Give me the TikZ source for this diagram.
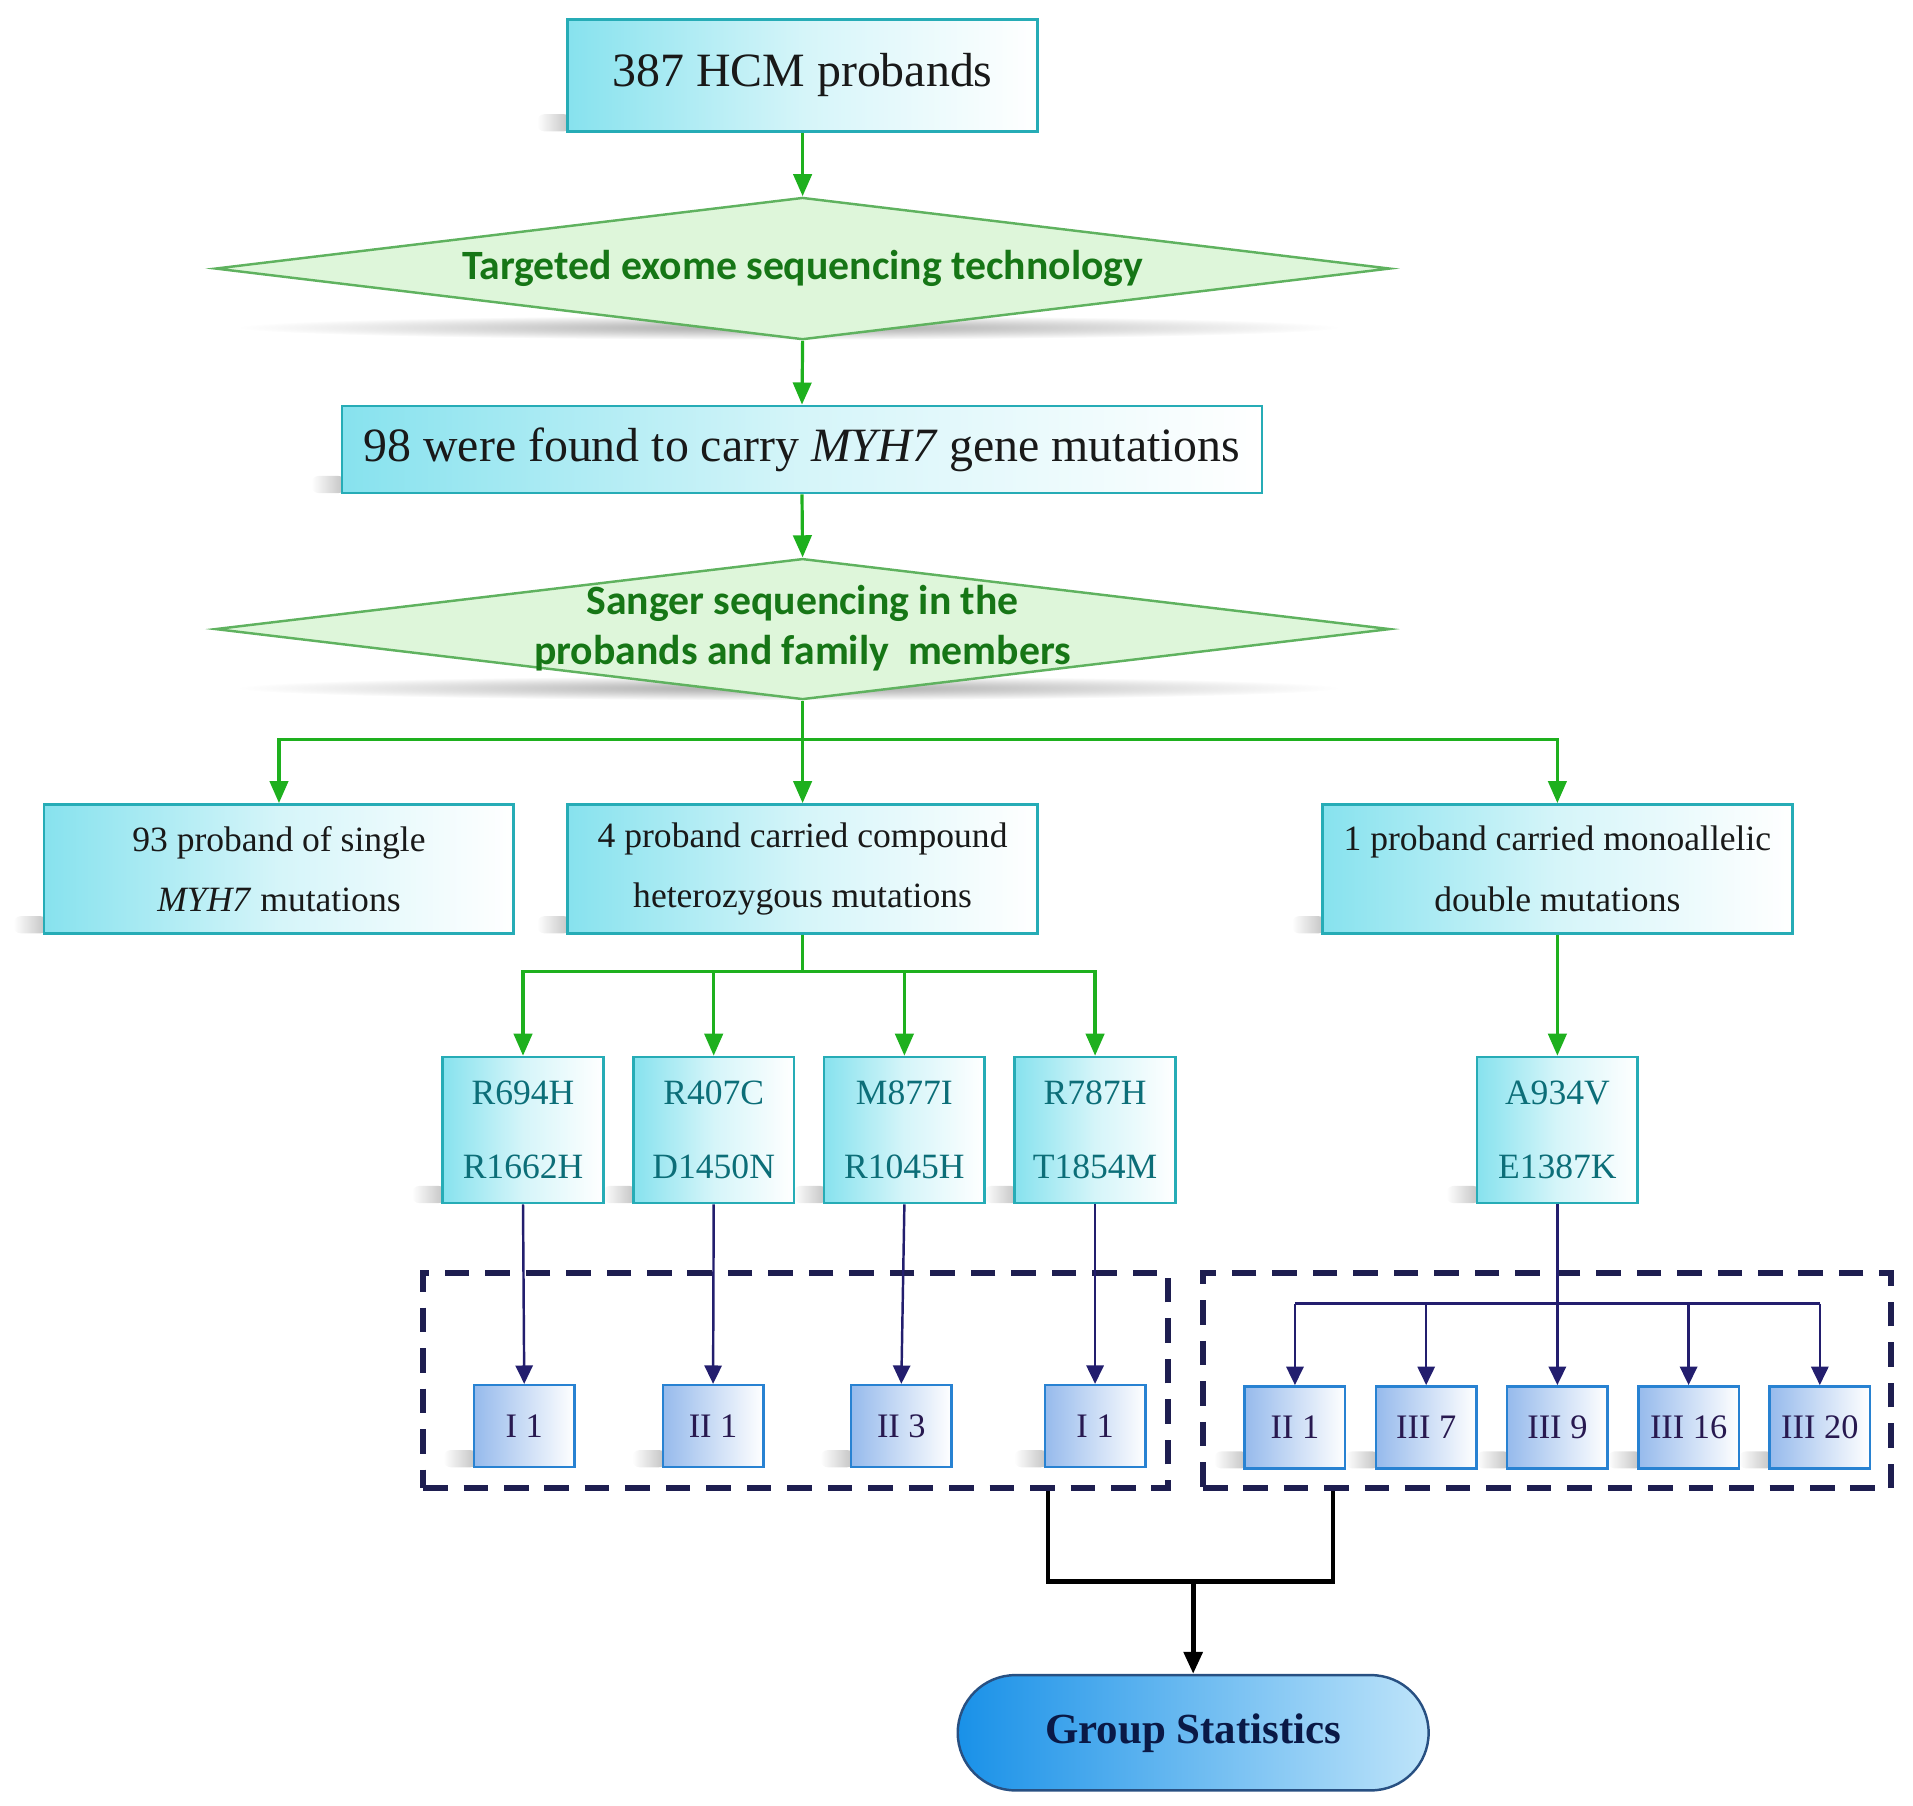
\documentclass[tikz,border=0pt]{standalone}
\usepackage{fontspec}
\setmainfont{Liberation Serif}
\newfontfamily\calibrifont{Carlito}
\usetikzlibrary{arrows.meta,shapes.geometric,shapes.misc,calc}
\pgfdeclarelayer{bg}
\pgfsetlayers{bg,main}
\definecolor{boxborder}{RGB}{38,172,182}
\definecolor{boxcyan}{RGB}{135,226,238}
\definecolor{muttext}{RGB}{12,110,120}
\definecolor{diafill}{RGB}{222,246,218}
\definecolor{diaborder}{RGB}{95,178,95}
\definecolor{diatext}{RGB}{22,118,22}
\definecolor{garrowc}{RGB}{30,176,30}
\definecolor{navyc}{RGB}{35,30,110}
\definecolor{dashc}{RGB}{30,30,80}
\definecolor{sborder}{RGB}{40,130,210}
\definecolor{sfill}{RGB}{150,186,236}
\definecolor{stext}{RGB}{40,25,80}
\definecolor{gsleft}{RGB}{25,145,232}
\definecolor{gsright}{RGB}{190,228,250}
\definecolor{gsborder}{RGB}{40,80,130}
\definecolor{gstext}{RGB}{10,25,70}
\definecolor{maintext}{RGB}{25,25,25}
\begin{document}
\begin{tikzpicture}[x=1pt,y=-1pt,
  tbox/.style={draw=boxborder, line width=2.2pt, left color=boxcyan, right color=white,
    middle color=boxcyan!35!white, inner sep=0pt, align=center, text=maintext},
  bigbox/.style={tbox, font=\fontsize{39}{47}\selectfont},
  rowbox/.style={tbox, minimum width=383pt, minimum height=105pt, font=\fontsize{29}{49}\selectfont},
  mutbox/.style={tbox, minimum width=131pt, minimum height=119pt, text=muttext, font=\fontsize{29}{60}\selectfont},
  diabox/.style={shape=diamond, draw=diaborder, fill=diafill, line width=2pt, inner sep=0pt,
    minimum width=958pt, minimum height=116pt, text=diatext,
    font=\calibrifont\bfseries\fontsize{34}{41}\selectfont},
  sbox/.style={draw=sborder, line width=2pt, left color=sfill, right color=white,
    minimum width=82pt, minimum height=67pt, inner sep=0pt, text=stext, font=\fontsize{28}{34}\selectfont},
  dashbox/.style={draw=dashc, line width=4.5pt, dash pattern=on 20pt off 13pt, minimum height=175.6pt, inner sep=0pt},
  gsnode/.style={rounded rectangle, draw=gsborder, line width=2pt, left color=gsleft, right color=gsright,
    minimum width=384pt, minimum height=94pt, inner sep=0pt, text=gstext, font=\bfseries\fontsize{35}{42}\selectfont},
  gline/.style={draw=garrowc, line width=2.6pt},
  garrow/.style={gline, -{Triangle[length=18pt,width=15pt]}},
  nline/.style={draw=navyc, line width=2pt},
  narrow/.style={nline, -{Triangle[length=15pt,width=14pt]}},
  bline/.style={draw=black, line width=4pt},
  barrow/.style={bline, -{Triangle[length=18pt,width=15pt]}}
]
\useasboundingbox (0,0) rectangle (1560,1472);

% main column
\node[bigbox, minimum width=383pt, minimum height=91pt] (top) at (654.5,61.5) {387 HCM probands};
\node[diabox] (d1) at (654.5,219) {\makebox[0pt]{Targeted exome sequencing technology}};
\node[bigbox, minimum width=750pt, minimum height=71pt] (b2) at (654,366.5) {98 were found to carry \textit{MYH7} gene mutations};
\node[diabox, minimum height=115pt] (d2) at (654.5,513) {\makebox[0pt]{\begin{tabular}{@{}c@{}}Sanger sequencing in the\\probands and family\ \ members\end{tabular}}};

% second row
\node[rowbox] (bA) at (227.5,708.5) {93 proband of single\\\textit{MYH7} mutations};
\node[rowbox] (bB) at (654.5,708.5) {4 proband carried compound\\heterozygous mutations};
\node[rowbox] (bC) at (1270,708.5) {1 proband carried monoallelic\\double mutations};

% mutation boxes
\node[mutbox] (m1) at (426.5,921.5) {R694H\\R1662H};
\node[mutbox] (m2) at (582,921.5) {R407C\\D1450N};
\node[mutbox] (m3) at (737.5,921.5) {M877I\\R1045H};
\node[mutbox] (m4) at (893,921.5) {R787H\\T1854M};
\node[mutbox] (mD) at (1270,921.5) {A934V\\E1387K};

% dashed groups
\node[dashbox, minimum width=607.5pt] (dl) at (648.75,1125.8) {};
\node[dashbox, minimum width=561pt] (dr) at (1261.5,1125.8) {};

% family members
\node[sbox] (s1) at (427.5,1163) {I 1};
\node[sbox] (s2) at (581.5,1163) {II 1};
\node[sbox] (s3) at (735,1163) {II 3};
\node[sbox] (s4) at (893,1163) {I 1};
\node[sbox] (r1) at (1056,1164) {II 1};
\node[sbox] (r2) at (1163,1164) {III 7};
\node[sbox] (r3) at (1270,1164) {III 9};
\node[sbox] (r4) at (1377,1164) {III 16};
\node[sbox] (r5) at (1484,1164) {III 20};

% final
\node[gsnode] (gs) at (973,1413) {Group Statistics};

% shadows
\begin{pgfonlayer}{bg}
  \shade[inner color=gray!70, outer color=white] (643,267) ellipse [x radius=450, y radius=10];
  \shade[inner color=gray!70, outer color=white] (643,561) ellipse [x radius=450, y radius=10];
  \foreach \n in {top,b2,bA,bB,bC,m1,m2,m3,m4,mD,s1,s2,s3,s4,r1,r2,r3,r4,r5}{
    \shade[left color=white, right color=gray!50, rounded corners=6pt]
      ([xshift=-24pt,yshift=1pt]\n.south west) rectangle ([xshift=4pt,yshift=15pt]\n.south west);
  }
\end{pgfonlayer}

% green connectors
\draw[garrow] (top.south) -- (d1.north);
\draw[garrow] (d1.south) -- (b2.north);
\draw[garrow] (b2.south) -- (d2.north);
\coordinate (j1) at (654.5,603);
\draw[gline] (d2.south) -- (j1);
\draw[garrow] (j1) -| (bA.north);
\draw[garrow] (j1) -- (bB.north);
\draw[garrow] (j1) -| (bC.north);
\coordinate (j2) at (654.5,792);
\draw[gline] (bB.south) -- (j2);
\draw[garrow] (j2) -| (m1.north);
\draw[garrow] (j2) -| (m2.north);
\draw[garrow] (j2) -| (m3.north);
\draw[garrow] (j2) -| (m4.north);
\draw[garrow] (bC.south) -- (mD.north);

% navy connectors
\draw[narrow] (m1.south) -- (s1.north);
\draw[narrow] (m2.south) -- (s2.north);
\draw[narrow] (m3.south) -- (s3.north);
\draw[narrow] (m4.south) -- (s4.north);
\draw[narrow] (mD.south) -- (r3.north);
\coordinate (hb) at (1270,1063);
\draw[nline] (r1.north |- hb) -- (r5.north |- hb);
\draw[narrow] (r1.north |- hb) -- (r1.north);
\draw[narrow] (r2.north |- hb) -- (r2.north);
\draw[narrow] (r4.north |- hb) -- (r4.north);
\draw[narrow] (r5.north |- hb) -- (r5.north);

% black connectors
\coordinate (j3) at (973,1290);
\draw[bline] ([xshift=205.85pt]dl.south) |- (j3) -| ([xshift=-174.5pt]dr.south);
\draw[barrow] (j3) -- (gs.north);
\end{tikzpicture}
\end{document}
